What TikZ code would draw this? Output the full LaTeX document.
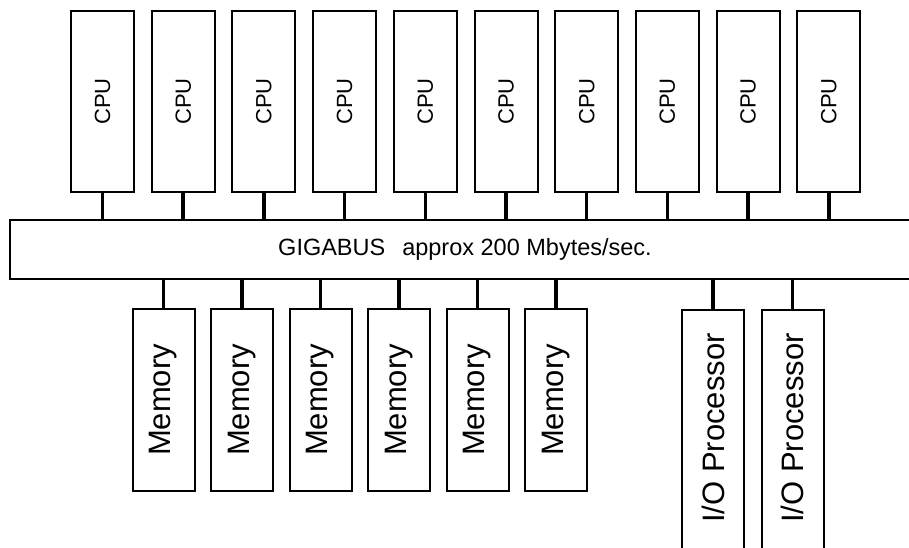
\documentclass[tikz,border=0pt]{standalone}
\usepackage{fontspec}
\setmainfont{Liberation Sans}
\usetikzlibrary{positioning}

\begin{document}
\begin{tikzpicture}[x=1pt, y=-1pt,
  cpu/.style={draw, line width=2pt, minimum width=63pt, minimum height=181pt,
              inner sep=0pt, font=\fontsize{22}{26}\selectfont},
  mem/.style={draw, line width=2pt, minimum width=62pt, minimum height=182pt,
              inner sep=0pt, font=\fontsize{31}{36}\selectfont},
  iop/.style={mem, minimum height=260pt},
  bus/.style={draw, line width=2pt, minimum width=910pt, minimum height=59pt,
              inner sep=0pt, font=\fontsize{23.5}{28}\selectfont},
  stub/.style={line width=3.5pt}
]
  \clip (0,0) rectangle (909,548);

  % processors
  \node[cpu] (C1)  at (102.5, 101.5) {\rotatebox{90}{CPU}};
  \node[cpu] (C2)  at (183.2, 101.5) {\rotatebox{90}{CPU}};
  \node[cpu] (C3)  at (263.9, 101.5) {\rotatebox{90}{CPU}};
  \node[cpu] (C4)  at (344.6, 101.5) {\rotatebox{90}{CPU}};
  \node[cpu] (C5)  at (425.3, 101.5) {\rotatebox{90}{CPU}};
  \node[cpu] (C6)  at (506.0, 101.5) {\rotatebox{90}{CPU}};
  \node[cpu] (C7)  at (586.7, 101.5) {\rotatebox{90}{CPU}};
  \node[cpu] (C8)  at (667.4, 101.5) {\rotatebox{90}{CPU}};
  \node[cpu] (C9)  at (748.1, 101.5) {\rotatebox{90}{CPU}};
  \node[cpu] (C10) at (828.8, 101.5) {\rotatebox{90}{CPU}};

  % the bus
  \node[bus] (bus) at (465, 249.5) {GIGABUS\hspace{17pt}approx 200 Mbytes/sec.};

  % memories and i/o
  \node[mem] (M1) at (163.5, 400) {\rotatebox{90}{Memory}};
  \node[mem] (M2) at (242.0, 400) {\rotatebox{90}{Memory}};
  \node[mem] (M3) at (320.5, 400) {\rotatebox{90}{Memory}};
  \node[mem] (M4) at (399.0, 400) {\rotatebox{90}{Memory}};
  \node[mem] (M5) at (477.5, 400) {\rotatebox{90}{Memory}};
  \node[mem] (M6) at (556.0, 400) {\rotatebox{90}{Memory}};
  \node[iop] (P1) at (713.0, 440) {\raisebox{24pt}{\rotatebox{90}{I/O Processor}}};
  \node[iop] (P2) at (792.5, 440) {\raisebox{24pt}{\rotatebox{90}{I/O Processor}}};

  \draw[stub] (C1.south)  -- (C1.south  |- bus.north);
  \draw[stub] (C2.south)  -- (C2.south  |- bus.north);
  \draw[stub] (C3.south)  -- (C3.south  |- bus.north);
  \draw[stub] (C4.south)  -- (C4.south  |- bus.north);
  \draw[stub] (C5.south)  -- (C5.south  |- bus.north);
  \draw[stub] (C6.south)  -- (C6.south  |- bus.north);
  \draw[stub] (C7.south)  -- (C7.south  |- bus.north);
  \draw[stub] (C8.south)  -- (C8.south  |- bus.north);
  \draw[stub] (C9.south)  -- (C9.south  |- bus.north);
  \draw[stub] (C10.south) -- (C10.south |- bus.north);

  \draw[stub] (M1.north |- bus.south) -- (M1.north);
  \draw[stub] (M2.north |- bus.south) -- (M2.north);
  \draw[stub] (M3.north |- bus.south) -- (M3.north);
  \draw[stub] (M4.north |- bus.south) -- (M4.north);
  \draw[stub] (M5.north |- bus.south) -- (M5.north);
  \draw[stub] (M6.north |- bus.south) -- (M6.north);
  \draw[stub] (P1.north |- bus.south) -- (P1.north);
  \draw[stub] (P2.north |- bus.south) -- (P2.north);
\end{tikzpicture}
\end{document}
